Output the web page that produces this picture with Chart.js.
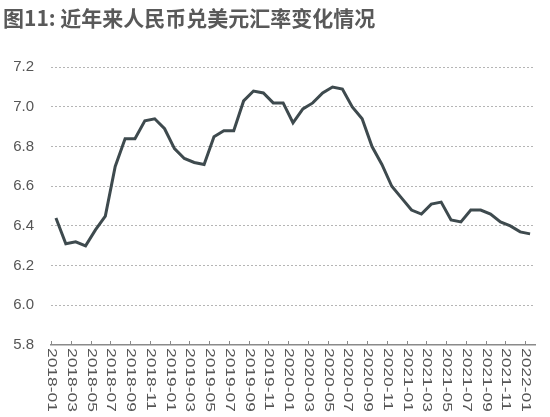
<!DOCTYPE html>
<html>
<head>
<meta charset="utf-8">
<script src="https://cdn.jsdelivr.net/npm/chart.js@4/dist/chart.umd.min.js"></script>
<style>
  html, body { margin: 0; padding: 0; background: #fff; }
  #wrap { width: 550px; height: 417px; }
</style>
</head>
<body>
<div id="wrap"><canvas id="myChart"></canvas></div>
<script>
// monthly CNY per USD, 2018-01 .. 2022-01
var months = [
  "2018-01", "2018-02", "2018-03", "2018-04", "2018-05", "2018-06", "2018-07", "2018-08", "2018-09", "2018-10", "2018-11", "2018-12",
  "2019-01", "2019-02", "2019-03", "2019-04", "2019-05", "2019-06", "2019-07", "2019-08", "2019-09", "2019-10", "2019-11", "2019-12",
  "2020-01", "2020-02", "2020-03", "2020-04", "2020-05", "2020-06", "2020-07", "2020-08", "2020-09", "2020-10", "2020-11", "2020-12",
  "2021-01", "2021-02", "2021-03", "2021-04", "2021-05", "2021-06", "2021-07", "2021-08", "2021-09", "2021-10", "2021-11", "2021-12",
  "2022-01"
];
var rates = [
  6.44, 6.31, 6.32, 6.30, 6.38, 6.45, 6.70, 6.84, 6.84, 6.93, 6.94, 6.89,
  6.79, 6.74, 6.72, 6.71, 6.85, 6.88, 6.88, 7.03, 7.08, 7.07, 7.02, 7.02,
  6.92, 6.99, 7.02, 7.07, 7.10, 7.09, 7.00, 6.94, 6.80, 6.71, 6.60, 6.54,
  6.48, 6.46, 6.51, 6.52, 6.43, 6.42, 6.48, 6.48, 6.46, 6.42, 6.40, 6.37,
  6.36
];
var tickLabels = [
  "2018-01", "2018-03", "2018-05", "2018-07", "2018-09", "2018-11",
  "2019-01", "2019-03", "2019-05", "2019-07", "2019-09", "2019-11",
  "2020-01", "2020-03", "2020-05", "2020-07", "2020-09", "2020-11",
  "2021-01", "2021-03", "2021-05", "2021-07", "2021-09", "2021-11",
  "2022-01"
];

var axisColor = "#8a8a8a";
var textColor = "#555555";

// tick marks point up into the plot and labels read top to bottom,
// so the x axis decorations are drawn here from the scale positions
var monthAxis = {
  id: "monthAxis",
  afterDraw: function (chart) {
    var ctx = chart.ctx;
    var x = chart.scales.x;
    var half = (x.getPixelForValue(1) - x.getPixelForValue(0)) / 2;
    ctx.save();
    ctx.strokeStyle = axisColor;
    ctx.lineWidth = 1;
    ctx.fillStyle = textColor;
    ctx.font = "12px 'Liberation Sans', Arial, sans-serif";
    ctx.textAlign = "left";
    ctx.textBaseline = "middle";
    for (var i = 0; i < tickLabels.length; i++) {
      var px = Math.round(x.getPixelForValue(i * 2) - half) + 0.5;
      ctx.beginPath();
      ctx.moveTo(px, x.top - 4);
      ctx.lineTo(px, x.top);
      ctx.stroke();
      ctx.save();
      ctx.translate(px, x.top + 3);
      ctx.rotate(Math.PI / 2);
      ctx.scale(1.45, 1);
      ctx.fillText(tickLabels[i], 0, 0);
      ctx.restore();
    }
    ctx.restore();
  }
};

var ctx = document.getElementById("myChart");
var myChart = new Chart(ctx, {
  type: "line",
  data: {
    labels: months,
    datasets: [{
      data: rates,
      borderColor: "#3e4a4e",
      borderWidth: 3,
      pointRadius: 0,
      fill: false,
      tension: 0
    }]
  },
  options: {
    responsive: true,
    maintainAspectRatio: false,
    animation: false,
    layout: { padding: { left: 3, right: 15, top: 0, bottom: 0 } },
    plugins: {
      legend: { display: false },
      tooltip: { enabled: false },
      title: {
        display: true,
        text: "图11: 近年来人民币兑美元汇率变化情况",
        align: "start",
        color: "#595959",
        font: { family: "'Noto Sans CJK SC', sans-serif", size: 21, weight: "bold", lineHeight: 1.2 },
        padding: { top: 5, bottom: 37 }
      }
    },
    scales: {
      x: {
        type: "category",
        offset: true,
        grid: { display: false, drawTicks: false },
        border: { display: true, color: axisColor, width: 1.5 },
        ticks: { display: false },
        afterFit: function (scale) { scale.height = 72; }
      },
      y: {
        min: 5.8,
        max: 7.2,
        grid: {
          color: function (c) { return c.tick && c.tick.value > 5.85 ? "#b5b5b5" : "rgba(0,0,0,0)"; },
          lineWidth: 1,
          drawTicks: false
        },
        border: { display: false, dash: [2, 2] },
        ticks: {
          stepSize: 0.2,
          padding: 17,
          color: textColor,
          font: { family: "'Liberation Sans', Arial, sans-serif", size: 15 },
          callback: function (v) { return v.toFixed(1); }
        },
        afterFit: function (scale) { scale.width = 48; }
      }
    }
  },
  plugins: [monthAxis]
});
</script>
</body>
</html>
